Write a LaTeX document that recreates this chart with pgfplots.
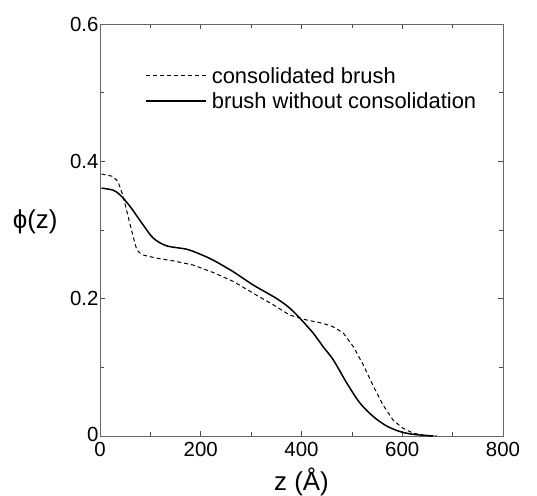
\documentclass[border=0pt]{standalone}
\usepackage{fontspec}
\setmainfont{Liberation Sans}
\usepackage{pgfplots}
\pgfplotsset{compat=1.18}
\begin{document}
\begin{tikzpicture}
\begin{axis}[
  name=ax, at={(0,0)}, anchor=south west,
  scale only axis, width=403bp, height=412bp,
  xmin=0, xmax=800, ymin=0, ymax=0.6,
  xtick={0,200,400,600,800}, ytick={0,0.2,0.4,0.6},
  minor xtick={100,300,500,700}, minor ytick={0.1,0.3,0.5},
  yticklabels={\raisebox{4bp}{0},0.2,0.4,0.6},
  scaled y ticks=false,
  /pgf/number format/assume math mode=true,
  tick align=inside, major tick length=5bp, minor tick length=4bp,
  every tick/.style={black!70, line width=0.5bp},
  axis line style={black!60, line width=0.7bp},
  tick label style={font=\fontsize{20.5}{24}\selectfont, text=black},
  xticklabel style={yshift=-3bp},
  yticklabel style={xshift=2bp},
  xlabel={z (Å)}, ylabel={ϕ(z)},
  xlabel style={font=\fontsize{26}{30}\selectfont, at={(0.5,0)}, anchor=north, yshift=-28bp},
  ylabel style={font=\fontsize{26}{30}\selectfont, rotate=-90, at={(0,0.52)}, anchor=east, xshift=-39bp},
  legend style={draw=none, fill=none, at={(0.112,0.8434)}, anchor=west, inner sep=0pt,
    font=\fontsize{22}{26}\selectfont, row sep=4bp},
  legend cell align=left,
  legend image code/.code={\draw[#1] (0bp,0bp) -- (60bp,0bp); \path (63bp,0bp);},
]
\addplot[black, line width=1bp, dash pattern=on 4bp off 3bp] coordinates {
(3,0.3816) (26,0.378) (36,0.370) (46,0.349) (56,0.319) (66,0.290) (73,0.271) (83,0.264)
(112,0.259) (146,0.255) (185,0.249) (225,0.238) (265,0.225) (304,0.208) (344,0.191)
(377,0.176) (410,0.169) (443,0.164) (463,0.159) (483,0.150) (503,0.130) (523,0.103)
(543,0.072) (562,0.045) (582,0.023) (602,0.011) (622,0.004) (648,0.0005) (668,0)
};
\addlegendentry{consolidated brush}
\addplot[black, line width=1.5bp, smooth] coordinates {
(3,0.361) (26,0.358) (40,0.351) (60,0.334) (86,0.307) (106,0.288) (132,0.277) (172,0.272)
(198,0.265) (225,0.256) (265,0.239) (304,0.220) (351,0.200) (377,0.186) (400,0.169)
(423,0.150) (443,0.130) (463,0.111) (490,0.077) (516,0.048) (543,0.028) (569,0.0146)
(596,0.0063) (622,0.0024) (662,0)
};
\addlegendentry{brush without consolidation}
\end{axis}
\pgfresetboundingbox
\path (-100bp,-60bp) rectangle (437bp,436bp);
\end{tikzpicture}
\end{document}
